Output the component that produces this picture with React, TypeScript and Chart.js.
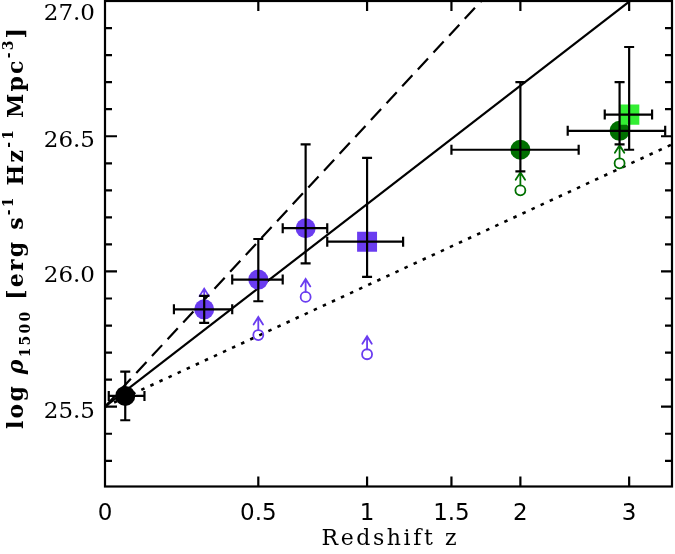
import { useEffect, useRef } from 'react';
import { Chart, registerables } from 'chart.js';

Chart.register(...registerables);

// ---------------- data (redshift z, log rho_1500) ----------------
// local point (black)
const localZ = [0.055];
const localV = [25.54];
const localZLo = [0.01];
const localZHi = [0.11];
const localVLo = [25.45];
const localVHi = [25.63];

// purple filled circles
const purpleZ = [0.3, 0.5, 0.7];
const purpleV = [25.86, 25.97, 26.16];
const purpleZLo = [0.2, 0.4, 0.6];
const purpleZHi = [0.4, 0.6, 0.8];
const purpleVLo = [25.81, 25.89, 26.03];
const purpleVHi = [25.91, 26.12, 26.47];

// purple square
const purpleSqZ = [1.0];
const purpleSqV = [26.11];
const purpleSqZLo = [0.8];
const purpleSqZHi = [1.2];
const purpleSqVLo = [25.98];
const purpleSqVHi = [26.42];

// dark green filled circles
const greenZ = [2.0, 2.9];
const greenV = [26.45, 26.52];
const greenZLo = [1.5, 2.4];
const greenZHi = [2.5, 3.4];
const greenVLo = [26.37, 26.47];
const greenVHi = [26.7, 26.7];

// bright green square
const limeSqZ = [3.0];
const limeSqV = [26.58];
const limeSqZLo = [2.75];
const limeSqZHi = [3.25];
const limeSqVLo = [26.45];
const limeSqVHi = [26.83];

// lower limits (open circles with arrows)
const purpleLimZ = [0.3, 0.5, 0.7, 1.0];
const purpleLimV = [25.87, 25.765, 25.906, 25.694];
const greenLimZ = [2.0, 2.9];
const greenLimV = [26.3, 26.4];

// model lines (end points)
const modelZ = [0, 3.48];
const solidV = [25.5, 27.12];
const dashedV = [25.5, 27.76];
const dottedV = [25.5, 26.47];

// axes
const xMinZ = 0;
const xMaxZ = 3.48;
const yMin = 25.205;
const yMax = 27.0;
const xTickZ = [0, 0.5, 1, 1.5, 2, 3];
const xTickLabels = ['0', '0.5', '1', '1.5', '2', '3'];
const yMajorTicks = [25.5, 26.0, 26.5, 27.0];
const yTickLabels = ['25.5', '26.0', '26.5', '27.0'];
const yMinorTicks = [25.3, 25.4, 25.6, 25.7, 25.8, 25.9, 26.1, 26.2, 26.3, 26.4, 26.6, 26.7, 26.8, 26.9];

const xTitle = 'Redshift z';

// ---------------- styles ----------------
const PURPLE = '#6a3cf0';
const DKGREEN = '#007000';
const LIME = '#33ee33';
const SERIF = '"DejaVu Serif", "Liberation Serif", serif';
const SANS = '"DejaVu Sans", "Liberation Sans", sans-serif';

const lx = (z: number) => Math.log10(1 + z);
const pts = (zs: number[], vs: number[]) => zs.map((z, i) => ({ x: lx(z), y: vs[i] }));

type Err = { z: number; v: number; zLo: number; zHi: number; vLo: number; vHi: number };
const collect = (z: number[], v: number[], zl: number[], zh: number[], vl: number[], vh: number[]): Err[] =>
  z.map((zz, i) => ({ z: zz, v: v[i], zLo: zl[i], zHi: zh[i], vLo: vl[i], vHi: vh[i] }));

const errorBars: Err[] = [
  ...collect(localZ, localV, localZLo, localZHi, localVLo, localVHi),
  ...collect(purpleZ, purpleV, purpleZLo, purpleZHi, purpleVLo, purpleVHi),
  ...collect(purpleSqZ, purpleSqV, purpleSqZLo, purpleSqZHi, purpleSqVLo, purpleSqVHi),
  ...collect(greenZ, greenV, greenZLo, greenZHi, greenVLo, greenVHi),
  ...collect(limeSqZ, limeSqV, limeSqZLo, limeSqZHi, limeSqVLo, limeSqVHi),
];

type Run = { t: string; f: string; s: number };

function drawRuns(ctx: CanvasRenderingContext2D, runs: Run[], targetLen: number) {
  let natural = 0;
  let count = 0;
  for (const r of runs) {
    ctx.font = r.f;
    for (const ch of r.t) {
      natural += ctx.measureText(ch).width;
      count++;
    }
  }
  const sp = count > 1 ? (targetLen - natural) / (count - 1) : 0;
  let u = -targetLen / 2;
  for (const r of runs) {
    ctx.font = r.f;
    for (const ch of r.t) {
      ctx.fillText(ch, u, r.s);
      u += ctx.measureText(ch).width + sp;
    }
  }
}

const decorPlugin = {
  id: 'decor',
  afterDatasetDraw(chart: any, args: any) {
    const ds = chart.data.datasets[args.index];
    if (!ds.isLimit) return;
    const { ctx } = chart;
    ctx.save();
    ctx.strokeStyle = ds.borderColor;
    ctx.lineWidth = 1.8;
    ctx.lineCap = 'round';
    for (const el of args.meta.data) {
      const px = el.x;
      const py = el.y;
      const tip = py - 18;
      ctx.beginPath();
      ctx.moveTo(px, py - 5);
      ctx.lineTo(px, tip);
      ctx.moveTo(px - 4.7, tip + 7.5);
      ctx.lineTo(px, tip);
      ctx.lineTo(px + 4.7, tip + 7.5);
      ctx.stroke();
    }
    ctx.restore();
  },
  afterDatasetsDraw(chart: any) {
    const { ctx, chartArea } = chart;
    const xs = chart.scales.x;
    const ys = chart.scales.y;
    ctx.save();
    ctx.beginPath();
    ctx.rect(chartArea.left, chartArea.top, chartArea.right - chartArea.left, chartArea.bottom - chartArea.top);
    ctx.clip();
    ctx.strokeStyle = '#000';
    ctx.lineWidth = 2.2;
    const cap = 5;
    for (const e of errorBars) {
      const px = xs.getPixelForValue(lx(e.z));
      const py = ys.getPixelForValue(e.v);
      const x0 = xs.getPixelForValue(lx(e.zLo));
      const x1 = xs.getPixelForValue(lx(e.zHi));
      const y0 = ys.getPixelForValue(e.vLo);
      const y1 = ys.getPixelForValue(e.vHi);
      ctx.beginPath();
      ctx.moveTo(x0, py);
      ctx.lineTo(x1, py);
      ctx.moveTo(x0, py - cap);
      ctx.lineTo(x0, py + cap);
      ctx.moveTo(x1, py - cap);
      ctx.lineTo(x1, py + cap);
      ctx.moveTo(px, y0);
      ctx.lineTo(px, y1);
      ctx.moveTo(px - cap, y0);
      ctx.lineTo(px + cap, y0);
      ctx.moveTo(px - cap, y1);
      ctx.lineTo(px + cap, y1);
      ctx.stroke();
    }
    ctx.restore();
  },
  afterDraw(chart: any) {
    const { ctx, chartArea } = chart;
    const xs = chart.scales.x;
    const ys = chart.scales.y;
    const { left, right, top, bottom } = chartArea;
    ctx.save();
    ctx.strokeStyle = '#000';
    ctx.lineWidth = 2.2;
    // frame
    ctx.strokeRect(left, top, right - left, bottom - top);
    // inward ticks
    ctx.beginPath();
    for (const z of xTickZ) {
      if (z === xMinZ) continue;
      const px = xs.getPixelForValue(lx(z));
      ctx.moveTo(px, bottom);
      ctx.lineTo(px, bottom - 10);
      ctx.moveTo(px, top);
      ctx.lineTo(px, top + 10);
    }
    for (const v of yMajorTicks) {
      const py = ys.getPixelForValue(v);
      ctx.moveTo(left, py);
      ctx.lineTo(left + 12, py);
      ctx.moveTo(right, py);
      ctx.lineTo(right - 11, py);
    }
    for (const v of yMinorTicks) {
      const py = ys.getPixelForValue(v);
      ctx.moveTo(left, py);
      ctx.lineTo(left + 7, py);
      ctx.moveTo(right, py);
      ctx.lineTo(right - 7, py);
    }
    ctx.stroke();

    // y tick labels
    ctx.fillStyle = '#000';
    ctx.font = '23px ' + SERIF;
    ctx.textAlign = 'right';
    ctx.textBaseline = 'alphabetic';
    yMajorTicks.forEach((v, i) => {
      const py = ys.getPixelForValue(v);
      ctx.fillText(yTickLabels[i], left - 10, Math.max(py + 11, 20));
    });

    // x title
    ctx.textAlign = 'left';
    ctx.save();
    ctx.translate(389, 545);
    drawRuns(ctx, [{ t: xTitle, f: '22px ' + SERIF, s: 0 }], 135);
    ctx.restore();

    // y title
    const main = 'bold 22px ' + SERIF;
    const ital = 'italic bold 22px ' + SERIF;
    const small = 'bold 14px ' + SERIF;
    ctx.save();
    ctx.translate(23, 228.5);
    ctx.rotate(-Math.PI / 2);
    drawRuns(
      ctx,
      [
        { t: 'log ', f: main, s: 0 },
        { t: 'ρ', f: ital, s: 0 },
        { t: '1500', f: small, s: 7 },
        { t: ' [erg s', f: main, s: 0 },
        { t: '-1', f: small, s: -10 },
        { t: ' Hz', f: main, s: 0 },
        { t: '-1', f: small, s: -10 },
        { t: ' Mpc', f: main, s: 0 },
        { t: '-3', f: small, s: -10 },
        { t: ']', f: main, s: 0 },
      ],
      401
    );
    ctx.restore();
    ctx.restore();
  },
};

function markerSet(label: string, data: { x: number; y: number }[], color: string, style: string, radius: number, order: number) {
  return {
    label,
    data,
    pointStyle: style,
    pointRadius: radius,
    pointHoverRadius: radius,
    pointBackgroundColor: color,
    pointBorderColor: color,
    pointBorderWidth: 0,
    showLine: false,
    order,
  };
}

function lineSet(label: string, vs: number[], dash: number[], width: number, order: number) {
  return {
    label,
    data: pts(modelZ, vs),
    showLine: true,
    borderColor: '#000',
    borderWidth: width,
    borderDash: dash,
    pointRadius: 0,
    pointHoverRadius: 0,
    fill: false,
    order,
  };
}

function limitSet(label: string, data: { x: number; y: number }[], color: string, order: number) {
  return {
    label,
    data,
    isLimit: true,
    pointStyle: 'circle',
    pointRadius: 5,
    pointHoverRadius: 5,
    pointBackgroundColor: 'rgba(0,0,0,0)',
    pointBorderColor: color,
    borderColor: color,
    pointBorderWidth: 1.8,
    showLine: false,
    order,
  };
}

export default function App() {
  const ref = useRef<HTMLCanvasElement | null>(null);

  useEffect(() => {
    if (!ref.current) return;
    const chart = new Chart(ref.current, {
      type: 'scatter',
      data: {
        datasets: [
          lineSet('dotted', dottedV, [3.5, 6.5], 2.6, 12),
          lineSet('dashed', dashedV, [15, 8], 2.2, 11),
          lineSet('solid', solidV, [], 2.2, 10),
          limitSet('purple limits', pts(purpleLimZ, purpleLimV), PURPLE, 8),
          limitSet('green limits', pts(greenLimZ, greenLimV), DKGREEN, 7),
          markerSet('local', pts(localZ, localV), '#000', 'circle', 10, 5),
          markerSet('purple', pts(purpleZ, purpleV), PURPLE, 'circle', 10, 4),
          markerSet('purple square', pts(purpleSqZ, purpleSqV), PURPLE, 'rect', 14.1, 3),
          markerSet('green', pts(greenZ, greenV), DKGREEN, 'circle', 10, 2),
          markerSet('lime square', pts(limeSqZ, limeSqV), LIME, 'rect', 14.4, 1),
        ] as any,
      },
      options: {
        animation: false,
        responsive: false,
        events: [],
        layout: { autoPadding: false, padding: { top: 1, right: 3, left: 0, bottom: 0 } },
        plugins: {
          legend: { display: false },
          tooltip: { enabled: false },
          title: { display: false },
        },
        scales: {
          x: {
            type: 'linear',
            position: 'bottom',
            min: lx(xMinZ),
            max: lx(xMaxZ),
            grid: { display: false, drawTicks: false },
            border: { display: false },
            afterBuildTicks: (scale: any) => {
              scale.ticks = xTickZ.map((z) => ({ value: lx(z) }));
            },
            afterFit: (scale: any) => {
              scale.height = 554 - 486.5;
              scale.paddingLeft = 0;
              scale.paddingRight = 0;
            },
            ticks: {
              autoSkip: false,
              maxRotation: 0,
              minRotation: 0,
              padding: 14,
              color: '#000',
              font: { family: SANS, size: 23 },
              callback: (_v: any, i: number) => xTickLabels[i],
            },
          },
          y: {
            type: 'linear',
            min: yMin,
            max: yMax,
            grid: { display: false, drawTicks: false },
            border: { display: false },
            ticks: { display: false },
            afterFit: (scale: any) => {
              scale.width = 105;
              scale.paddingTop = 0;
              scale.paddingBottom = 0;
            },
          },
        },
      },
      plugins: [decorPlugin],
    } as any);
    return () => chart.destroy();
  }, []);

  return (
    <div style={{ position: 'absolute', left: 0, top: 0, width: 675, height: 554, background: '#fff' }}>
      <canvas ref={ref} width={675} height={554} style={{ display: 'block' }} />
    </div>
  );
}
